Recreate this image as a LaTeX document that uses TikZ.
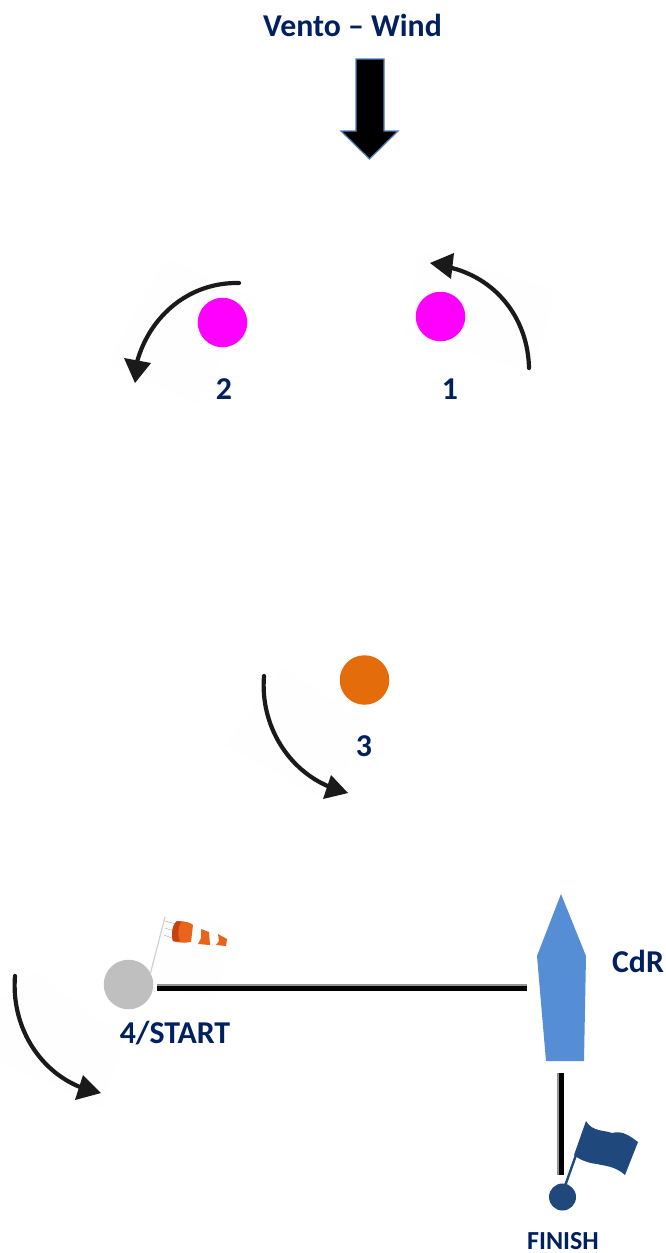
\documentclass[tikz,border=0pt]{standalone}
\usepackage{fontspec}
\setmainfont{Carlito}
\usetikzlibrary{arrows.meta}
\definecolor{labelblue}{HTML}{002060}
\definecolor{magentamark}{HTML}{FF00FF}
\definecolor{orangemark}{HTML}{E46C0A}
\definecolor{greymark}{HTML}{BFBFBF}
\definecolor{boatblue}{HTML}{558ED5}
\definecolor{flagblue}{HTML}{1F497D}
\definecolor{arrowblue}{HTML}{4F81BD}
\definecolor{curvecol}{HTML}{1A1A1A}
\definecolor{sockorange}{HTML}{E8641B}
\definecolor{sockdark}{HTML}{C8400F}
\definecolor{polegrey}{HTML}{D0D0D0}
\definecolor{faint}{HTML}{FEFEFE}
\tikzset{
  lab/.style={text=labelblue,font=\bfseries\fontsize{#1}{#1}\selectfont,inner sep=0pt},
  markdot/.style={circle,fill=#1,draw=none,minimum size=49.5pt,inner sep=0pt,outer sep=0pt},
  curved/.style={draw=curvecol,line width=4.2pt,line cap=round},
  tipfill/.style={fill=curvecol,draw=none},
  linegrey/.style={draw=gray!85,line width=7pt},
  lineblack/.style={draw=black,line width=4.6pt}
}
\begin{document}
\begin{tikzpicture}[x=1pt,y=-1pt]
\useasboundingbox (0,0) rectangle (665,1253);
\fill[white] (0,0) rectangle (665,1253);
% faint image backgrounds
\fill[faint] (166,258) -- (257,300) -- (196,404) -- (108,362) -- cycle;
\fill[faint] (420,250) -- (555,291) -- (533,372) -- (405,335) -- cycle;
\fill[faint] (284,668) -- (372,727) -- (325,800) -- (226,745) -- cycle;
\fill[faint] (165,913) -- (232,925) -- (216,1000) -- (150,985) -- cycle;
\fill[faint] (35,972) -- (125,1040) -- (100,1108) -- (0,1060) -- (0,1000) -- cycle;
% wind
\node[lab=31.8] (wind) at (352.5,25) {Vento – Wind};
\draw[arrowblue,line width=1.2pt,fill=black,line join=miter] (356,59) -- (384,59) -- (384,131) -- (398,131) -- (369.5,159) -- (341,131) -- (356,131) -- cycle;
% marks
\node[markdot=magentamark] (m1) at (440.5,316.5) {};
\node[lab=31.8] (l1) at (450,389) {1};
\node[markdot=magentamark] (m2) at (222.5,322.5) {};
\node[lab=31.8] (l2) at (224,389) {2};
\node[markdot=orangemark] (m3) at (364.5,680) {};
\node[lab=31.8] (l3) at (364,746) {3};
\node[markdot=greymark] (m4) at (128.5,984.5) {};
\node[lab=31.8] (l4) at (175,1033) {4/START};
% curved arrows
\draw[curved] (529,368) .. controls (528,320) and (498,280) .. (452,268);
\fill[tipfill] (430,263) -- (454,253) -- (451,279) -- cycle;
\draw[curved] (239,283) .. controls (190,282) and (150,315) .. (137,362);
\fill[tipfill] (135,383) -- (124,358) -- (151,363) -- cycle;
\draw[curved] (264,676) .. controls (260,725) and (288,770) .. (330,787);
\fill[tipfill] (348,793) -- (331,775) -- (323,799) -- cycle;
\draw[curved] (15,976) .. controls (11,1025) and (38,1070) .. (80,1087);
\fill[tipfill] (101,1093) -- (83,1075) -- (75,1100) -- cycle;
% windsock
\draw[polegrey,line width=1.2pt] (150,975) -- (165,917);
\draw[gray!70,line width=.4pt] (165,921) -- (176,924) (165,928) -- (174,931) (164,935) -- (174,939);
\fill[sockorange] (177,921) .. controls (186,921) and (191,923) .. (193,925) -- (191,942) .. controls (185,943) and (178,943) .. (173,941) .. controls (171,935) and (172,925) .. (177,921) -- cycle;
\fill[sockdark] (177,921) .. controls (172,925) and (171,935) .. (173,941) .. controls (177,942) and (178,941) .. (180,941) .. controls (177,935) and (178,927) .. (181,922) -- cycle;
\fill[sockorange] (201,929) -- (209,932) -- (210,945) -- (198,944) -- (201,938) -- cycle;
\fill[sockorange] (218,934) -- (227,939) -- (226,946) -- (216,945) -- (219,941) -- cycle;
% start line
\coordinate (sa) at (157,987.5);
\coordinate (sb) at (527,987.5);
\draw[linegrey] (sa) -- (sb);
\draw[lineblack] ([yshift=-1.2pt]sa) -- ([yshift=-1.2pt]sb);
% boat
\fill[boatblue] (561,894) -- (586,956) -- (584,1061) -- (546,1061) -- (537,956) -- cycle;
\node[lab=31.8] (cdr) at (638,961) {CdR};
% finish line
\coordinate (fa) at (560.5,1073);
\coordinate (fb) at (560.5,1175);
\draw[linegrey] (fa) -- (fb);
\draw[lineblack] ([xshift=1.2pt]fa) -- ([xshift=1.2pt]fb);
% finish mark and flag
\node[circle,fill=flagblue,minimum size=27pt,inner sep=0pt,outer sep=0pt] (mf) at (562.5,1197) {};
\draw[flagblue,line width=2.4pt] (565,1186) -- (576,1155);
\fill[flagblue] (586,1121) .. controls (592,1132) and (605,1130) .. (612,1133) .. controls (622,1130) and (630,1136) .. (638,1142) -- (625,1175) .. controls (615,1166) and (605,1166) .. (597,1164) .. controls (588,1163) and (580,1160) .. (574,1155) -- cycle;
\node[lab=26] (fin) at (563,1241) {FINISH};
\end{tikzpicture}
\end{document}
